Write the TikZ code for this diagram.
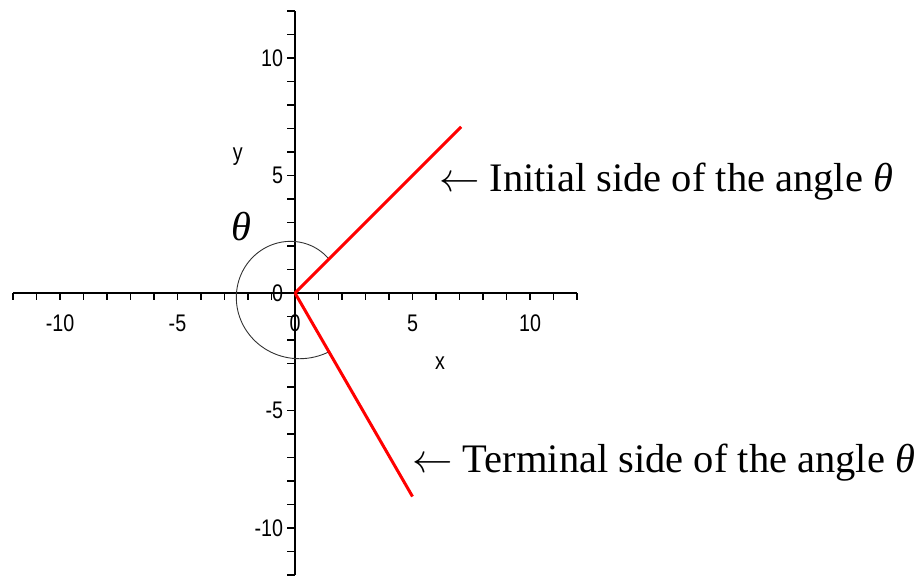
\documentclass[tikz,border=0pt]{standalone}
\usepackage{fix-cm}
\usepackage{fontspec}
\setmainfont{Liberation Serif}
\newfontfamily\ticksfont[FakeStretch=0.82]{Liberation Sans}
\usetikzlibrary{positioning}
\definecolor{sidered}{RGB}{255,0,0}
\definecolor{arcgray}{RGB}{50,50,50}

\begin{document}
\begin{tikzpicture}[x=23.5pt,y=23.5pt,
  axis/.style={line width=1.4pt},
  tickmark/.style={line width=1.2pt},
  sideline/.style={sidered,line width=3pt},
  ticklabel/.style={font=\ticksfont\fontsize{24}{26}\selectfont,inner sep=0pt},
  caption/.style={font=\fontsize{40.5}{48}\selectfont,inner sep=0pt,anchor=base west}]
\useasboundingbox (-12.553,-12.043) rectangle (26.638,12.468);
\coordinate (O) at (0,0);
% axes and ticks
\draw[axis] (-12,0) -- (12,0);
\draw[axis] (0,-12) -- (0,12);
\foreach \k in {-12,...,12} {
  \draw[tickmark] (\k,0) -- (\k,-0.3);
  \draw[tickmark] (0,\k) -- (-0.33,\k);
}
\foreach \k [count=\i] in {-10,-5,0,5,10} {
  \node[ticklabel] (xl\i) at (\k,-1.28) {\k};
  \node[ticklabel,anchor=east] (yl\i) at (-0.5,\k) {\k};
}
\node[ticklabel] (xname) at (6.17,-2.98) {x};
\node[ticklabel] (yname) at (-2.43,5.79) {y};
% the angle
\draw[arcgray,line width=0.9pt] plot[domain=45:300,samples=80,smooth]
  ({(2.04+0.85*(\x-45)/255)*cos(\x)},{(2.04+0.85*(\x-45)/255)*sin(\x)});
\node[font=\fontsize{40.5}{48}\selectfont\itshape] (thetalbl) at (-2.26,2.81) {θ};
\coordinate (I) at (45:10);
\coordinate (T) at (-60:10);
\draw[sideline] (O) -- (I);
\draw[sideline] (O) -- (T);
\node[caption] (initcap) at (6.12,4.30) {$\leftarrow$ Initial side of the angle {\itshape θ}};
\node[caption] (termcap) at (4.98,-7.62) {$\leftarrow$ Terminal side of the angle {\itshape θ}};
\end{tikzpicture}
\end{document}
